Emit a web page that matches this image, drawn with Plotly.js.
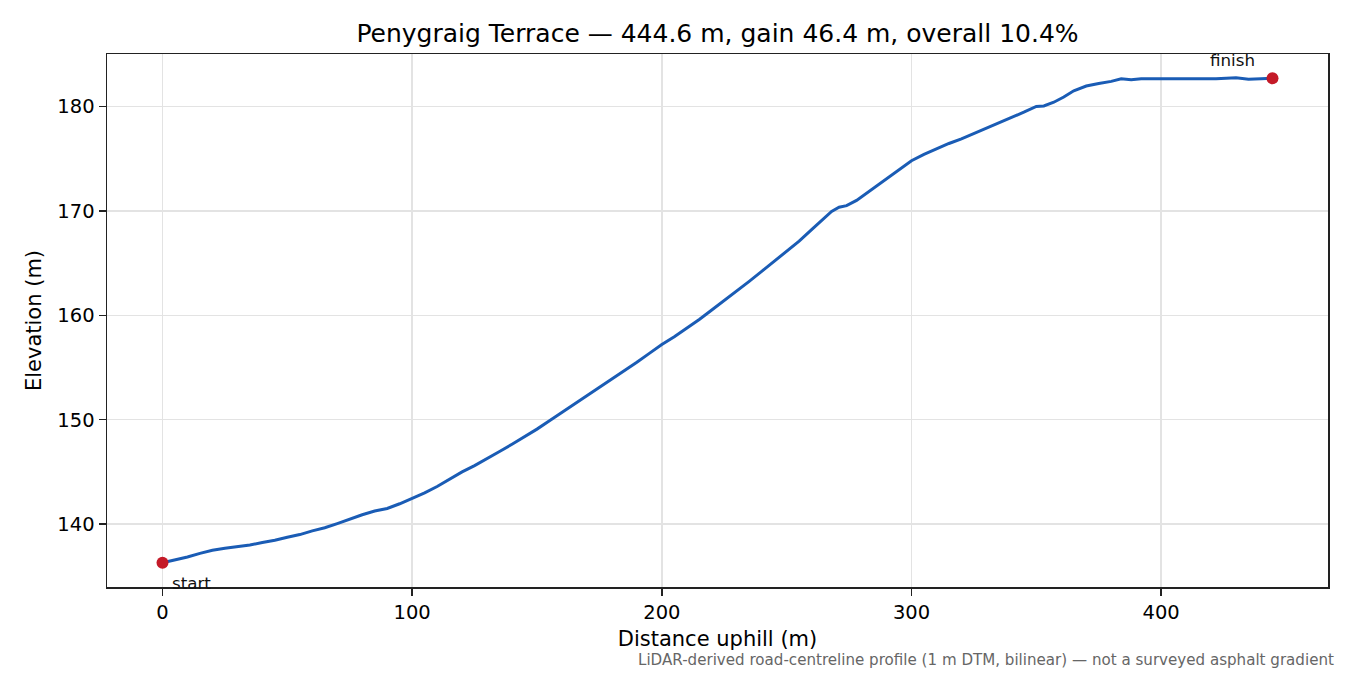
<!DOCTYPE html>
<html>
<head>
<meta charset="utf-8">
<script src="https://cdn.plot.ly/plotly-3.0.1.min.js"></script>
<style>
  html, body { margin: 0; padding: 0; background: #fff; }
  #graph { width: 1350px; height: 675px; }
</style>
</head>
<body>
<div id="graph"></div>
<script>
// profile, distance (m) vs elevation (m)
let distance = [0, 5, 10, 15, 20, 25, 30, 35, 40, 45, 50, 55, 60, 65, 70, 75, 80, 85, 90, 95,
    100, 105, 110, 115, 120, 125, 130, 135, 140, 145, 150, 155, 160, 165, 170, 175, 180, 185, 190, 195,
    200, 205, 210, 215, 220, 225, 230, 235, 240, 245, 250, 255, 260, 265, 268, 271, 274, 278, 282, 286,
    290, 295, 300, 305, 310, 315, 320, 325, 330, 335, 340, 345, 350, 353, 357, 361, 365, 370, 375, 380,
    384, 388, 392, 400, 408, 415, 422, 430, 435, 440, 444.6];
let elevation = [136.3, 136.55, 136.85, 137.2, 137.5, 137.7, 137.85, 138.0, 138.25, 138.45, 138.75, 139.0, 139.35, 139.65, 140.05, 140.5, 140.9, 141.25, 141.5, 141.95,
    142.45, 143.0, 143.6, 144.3, 145.0, 145.6, 146.25, 146.95, 147.65, 148.35, 149.1, 149.9, 150.7, 151.45, 152.25, 153.05, 153.9, 154.7, 155.5, 156.35,
    157.2, 157.95, 158.75, 159.6, 160.5, 161.4, 162.3, 163.25, 164.2, 165.15, 166.1, 167.1, 168.2, 169.3, 169.95, 170.35, 170.5, 171.0, 171.7, 172.4,
    173.1, 173.9, 174.8, 175.4, 175.95, 176.45, 176.9, 177.4, 177.9, 178.4, 178.9, 179.45, 180.0, 180.05, 180.4, 180.9, 181.5, 181.95, 182.2, 182.4,
    182.65, 182.55, 182.65, 182.65, 182.6, 182.6, 182.65, 182.75, 182.6, 182.65, 182.7];

let xTicks = [0, 100, 200, 300, 400];
let yTicks = [140, 150, 160, 170, 180];

let titleText = "Penygraig Terrace — 444.6 m, gain 46.4 m, overall 10.4%";
let noteText = "LiDAR-derived road-centreline profile (1 m DTM, bilinear) — not a surveyed asphalt gradient";

let font = "DejaVu Sans, sans-serif";
let last = distance.length - 1;

let profile = {
    x: distance,
    y: elevation,
    mode: "lines",
    line: {color: "#1a5cb5", width: 3},
    hoverinfo: "skip",
    showlegend: false
};

let ends = {
    x: [distance[0], distance[last]],
    y: [elevation[0], elevation[last]],
    mode: "markers",
    marker: {color: "#c41a28", size: 12},
    hoverinfo: "skip",
    showlegend: false
};

let axisCommon = {
    showline: true,
    linecolor: "#222",
    linewidth: 1.5,
    mirror: true,
    ticks: "outside",
    ticklen: 7,
    tickwidth: 1.5,
    tickcolor: "#222",
    showgrid: true,
    gridcolor: "#e3e3e3",
    gridwidth: 1.5,
    zeroline: false,
    tickfont: {family: font, size: 19.5, color: "#000"}
};

let layout = {
    width: 1350,
    height: 675,
    margin: {l: 107, r: 22, t: 54, b: 88},
    paper_bgcolor: "#fff",
    plot_bgcolor: "#fff",
    font: {family: font, color: "#000"},
    title: {
        text: titleText,
        font: {family: font, size: 25, color: "#000"},
        x: 0.5, xref: "paper", xanchor: "center",
        y: 1 - 33 / 675, yref: "container", yanchor: "middle"
    },
    xaxis: Object.assign({}, axisCommon, {
        range: [-22.23, 466.83],
        tickvals: xTicks,
        ticktext: xTicks.map(String),
        title: {text: "Distance uphill (m)", font: {family: font, size: 21}, standoff: 8}
    }),
    yaxis: Object.assign({}, axisCommon, {
        range: [133.98, 185.02],
        tickvals: yTicks,
        ticktext: yTicks.map(String),
        title: {text: "Elevation (m)", font: {family: font, size: 21}, standoff: 10}
    }),
    annotations: [
        {
            x: distance[0], y: elevation[0], xref: "x", yref: "y",
            text: "start", showarrow: false,
            xanchor: "left", yanchor: "middle", xshift: 7, yshift: -20,
            font: {family: font, size: 16.7, color: "#111"}
        },
        {
            x: distance[last], y: elevation[last], xref: "x", yref: "y",
            text: "finish", showarrow: false,
            xanchor: "right", yanchor: "middle", xshift: -16, yshift: 18,
            font: {family: font, size: 16.7, color: "#111"}
        },
        {
            x: (1336 - 107) / 1221, y: -(660 - 587) / 533, xref: "paper", yref: "paper",
            text: noteText, showarrow: false,
            xanchor: "right", yanchor: "middle",
            font: {family: font, size: 15.1, color: "#666"}
        }
    ]
};

Plotly.newPlot("graph", [profile, ends], layout, {displayModeBar: false, staticPlot: true});
</script>
</body>
</html>
